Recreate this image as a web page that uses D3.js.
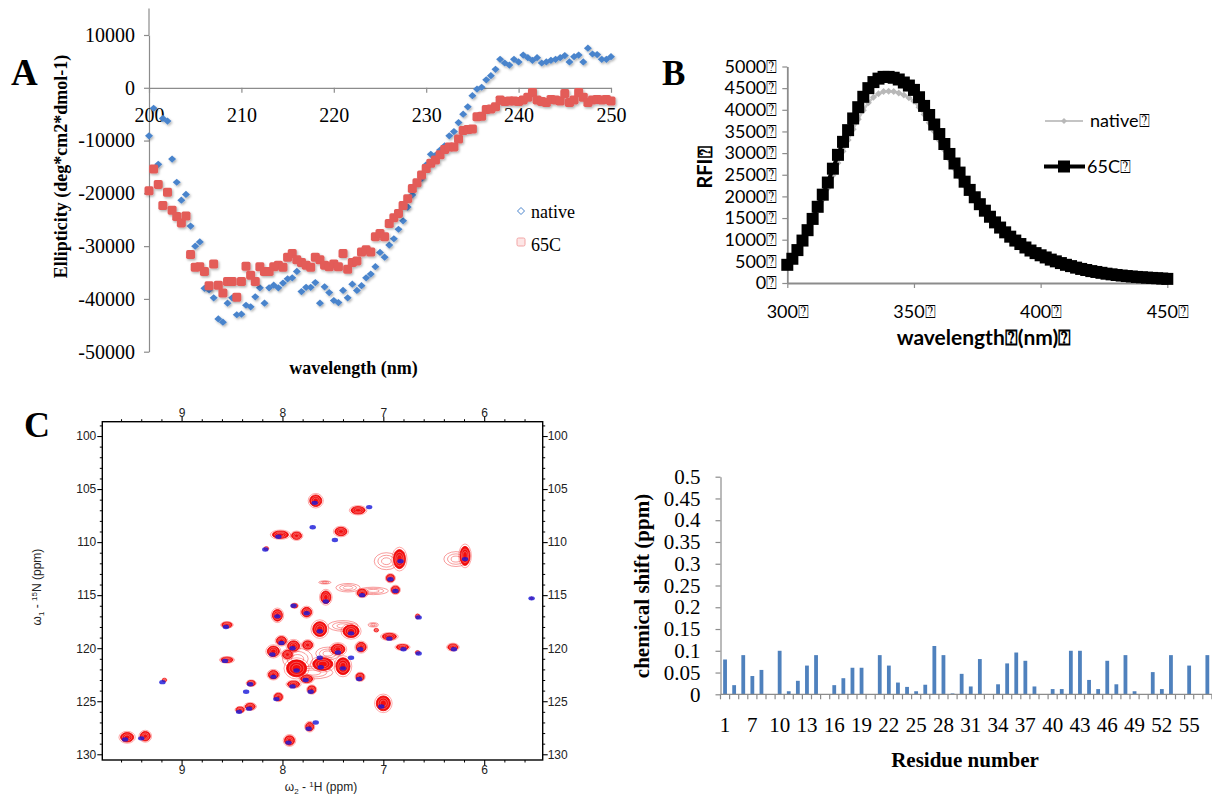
<!DOCTYPE html>
<html><head><meta charset="utf-8">
<script src="https://cdn.jsdelivr.net/npm/d3@7"></script>
<style>body{margin:0;background:#fff}svg{display:block}</style>
</head><body>
<svg id="fig" width="1212" height="799"></svg>
<script>
// ---------------- DATA ----------------
// Panel A: CD spectra (0.5 nm steps, 200-250 nm)
const cdWavelength = d3.range(200, 250.001, 0.5);
const cdNative = [-9100,-3900,-14500,-5800,-6300,-13500,-17900,-21300,-20200,-26200,
  -30000,-29200,-38000,-38300,-39800,-43800,-44400,-40800,-39800,-43000,
  -42900,-41200,-41500,-39600,-37900,-40800,-37900,-37400,-37900,-37000,
  -36200,-36000,-34800,-38600,-37800,-37800,-36900,-40800,-37700,-38800,
  -40300,-40700,-38400,-39800,-37200,-38400,-37500,-36000,-35300,-33900,
  -31200,-32100,-29800,-28600,-26800,-25200,-22600,-20300,-18100,-17200,
  -14600,-12600,-12800,-11800,-11000,-9100,-8300,-6600,-5000,-3600,
  -1500,-250,100,1500,2300,3500,5400,4700,4300,5400,
  4900,6200,5700,5200,5700,4700,4900,5200,5400,5700,
  6100,4900,5900,6200,4900,7500,6400,6300,5400,5400,5900];
const cd65C = [-19500,-15400,-18300,-22300,-19800,-23200,-24400,-25600,-24300,-31600,
  -34000,-33900,-34800,-37500,-33400,-37400,-38900,-36700,-36700,-39700,
  -36700,-33800,-35500,-36700,-33900,-34800,-34800,-33900,-33600,-34000,
  -32100,-31400,-32600,-33100,-33600,-34000,-32100,-32600,-33600,-33900,
  -33400,-33900,-31400,-34400,-33100,-32800,-31100,-30700,-31100,-28200,
  -27600,-28200,-25700,-24600,-23800,-22300,-21000,-19100,-18000,-16500,
  -15300,-14300,-13700,-12700,-11700,-11200,-11200,-9700,-8100,-7900,
  -7800,-5500,-5400,-4100,-4000,-3600,-2300,-2600,-2500,-2500,
  -2600,-2300,-1800,-900,-2300,-2600,-2800,-2200,-2300,-2500,
  -1100,-2800,-2300,-900,-1800,-2800,-2300,-2200,-2300,-2200,-2500];
const cdYTicks = [-50000,-40000,-30000,-20000,-10000,0,10000];
const cdXTicks = [200,210,220,230,240,250];

// Panel B: fluorescence emission (2 nm steps, 300-450 nm)
const flWavelength = d3.range(300, 450.001, 2);
const flNative = [400,540,730,940,1170,1410,1670,1930,2190,2480,
  2770,3040,3300,3550,3780,3990,4160,4290,4370,4420,
  4430,4420,4390,4340,4280,4200,4060,3890,3700,3500,
  3290,3070,2850,2640,2440,2240,2060,1900,1750,1610,
  1480,1360,1240,1140,1040,950,875,800,730,675,
  625,575,528,488,450,412,382,348,318,294,
  270,250,230,211,196,181,168,157,147,137,
  129,121,114,107,100,92];
const fl65C = [420,560,760,980,1220,1480,1760,2040,2320,2640,
  2960,3260,3530,3800,4060,4300,4500,4640,4720,4760,
  4760,4740,4700,4630,4560,4460,4290,4090,3880,3660,
  3440,3210,2980,2760,2550,2340,2150,1980,1820,1670,
  1530,1400,1280,1170,1070,980,900,820,750,690,
  640,590,540,500,460,420,390,355,325,300,
  275,255,235,215,200,185,172,160,150,140,
  132,124,117,110,103,95];
const flYTicks = [0,500,1000,1500,2000,2500,3000,3500,4000,4500,5000];
const flXTicks = [300,350,400,450];

// Panel C: 1H-15N HSQC peaks
const redH = [7.67,7.25,8.02,7.86,7.42,8.16,6.84,6.19,6.93,6.88,7.57,7.21,7.88,8.05,7.76,8.55,7.63,7.32,8.01,7.89,
  7.75,7.45,7.22,8.09,8.55,7.95,7.86,7.60,7.40,8.09,7.76,7.23,7.89,8.31,7.71,9.17,8.04,8.32,8.42,7.00,
  7.73,7.93,9.54,9.36,7.07,6.94,6.81,6.31,6.66,6.66,5.53];
const redN = [106.1,107.0,109.3,109.4,109.0,110.6,111.6,111.3,113.4,114.5,115.2,114.8,116.0,116.9,116.6,117.8,118.2,118.4,119.3,119.8,
  119.7,120.1,119.9,120.3,121.1,120.6,121.9,121.5,121.7,122.5,122.9,122.7,123.4,123.3,123.9,123.0,124.6,125.5,125.8,125.2,
  127.4,128.7,128.4,128.3,118.3,118.9,119.9,119.9,120.4,117.0,115.3];
const redLwH = [0.06,0.07,0.08,0.05,0.06,0.02,0.06,0.05,0.04,0.04,0.05,0.05,0.03,0.05,0.05,0.05,0.07,0.08,0.05,0.06,
  0.05,0.07,0.05,0.06,0.06,0.05,0.10,0.10,0.07,0.05,0.06,0.04,0.06,0.04,0.04,0.02,0.04,0.05,0.04,0.07,
  0.04,0.05,0.065,0.05,0.02,0.07,0.06,0.05,0.02,0.02,0.01];
const redLwN = [0.55,0.35,0.35,0.35,0.4,0.15,0.9,0.9,0.35,0.35,0.6,0.35,0.2,0.55,0.45,0.25,0.7,0.6,0.4,0.5,
  0.4,0.5,0.45,0.5,0.25,0.4,0.8,0.6,0.8,0.4,0.35,0.35,0.3,0.25,0.35,0.15,0.35,0.3,0.25,0.7,
  0.4,0.45,0.45,0.45,0.15,0.3,0.25,0.3,0.15,0.2,0.1];
const blueH = [7.68,7.14,8.04,7.48,7.70,8.17,6.83,6.19,6.93,6.88,7.57,7.21,7.89,8.05,7.76,8.56,7.63,7.32,6.94,8.01,
  7.90,7.45,7.23,8.10,8.57,7.86,7.40,7.62,8.09,7.77,7.24,7.90,8.32,8.36,7.72,9.19,8.06,8.33,8.43,7.02,
  7.74,7.94,9.56,9.40,6.80,6.65,6.30,6.65,5.53,7.67,7.63,7.32];
const blueN = [106.3,106.7,109.5,109.8,108.6,110.7,111.8,111.6,113.5,114.6,115.6,115.0,116.0,117.0,116.7,118.0,118.4,118.6,119.1,119.5,
  120.0,120.4,120.1,120.6,121.2,122.1,121.9,121.8,122.7,123.0,122.9,123.6,123.4,124.1,124.1,123.2,124.8,125.7,126.0,125.5,
  127.6,128.9,128.6,128.5,120.1,120.5,120.1,117.1,115.3,127.0,120.9,120.9];
const broadH = [6.97,6.28,7.58,7.35,7.10,7.40,7.10,7.85,7.70,7.55];
const broadN = [111.8,111.6,113.8,114.3,114.6,117.9,117.8,121.0,122.3,120.5];
const broadLwH = [0.12,0.12,0.06,0.12,0.15,0.15,0.05,0.15,0.2,0.12];
const broadLwN = [0.8,0.7,0.15,0.4,0.35,0.5,0.2,1.0,0.6,0.6];
const nmrHTicks = [9,8,7,6];
const nmrNTicks = [100,105,110,115,120,125,130];

// Panel D: chemical shift perturbation
const residues = ["1","5","6","7","8","9","10","11","12","13","14","15","16","17","18","19","20","21","22","23",
  "24","25","26","27","28","29","30","31","32","33","34","35","36","37","38","39","40","41","42","43",
  "44","45","46","47","48","49","50","51","52","53","54","55","56","57"];
const cspValues = [0.080,0.021,0.090,0.042,0.056,0,0.100,0.007,0.031,0.066,0.090,0,0.021,0.037,0.061,0.061,0,0.090,0.066,0.027,
  0.017,0.007,0.022,0.111,0.090,0.002,0.047,0.018,0.081,0,0.023,0.071,0.096,0.077,0.018,0,0.012,0.012,0.100,0.100,
  0.033,0.012,0.077,0.023,0.090,0.007,0,0.051,0.012,0.090,0,0.066,0,0.090];
const cspYTicks = [0,0.05,0.1,0.15,0.2,0.25,0.3,0.35,0.4,0.45,0.5];

// ---------------- DRAWING ----------------
const BOX = "\u2370";
const SERIF = "'Liberation Serif','Times New Roman',serif";
const SANSB = "Lato,'Open Sans',sans-serif";
const SANSC = "'Liberation Sans',Arial,sans-serif";
const AXC = "#8c8c8c";
const svg = d3.select("#fig");
const defs = svg.append("defs");
defs.append("filter").attr("id","shA").attr("x","-50%").attr("y","-50%").attr("width","200%").attr("height","200%")
  .append("feDropShadow").attr("dx",1.2).attr("dy",1.5).attr("stdDeviation",0.8)
  .attr("flood-color","#000").attr("flood-opacity",0.3);

function styleAxis(g, color, font, size){
  g.attr("font-family", font).attr("font-size", size);
  g.selectAll(".domain").attr("stroke", color).attr("stroke-width",1.2);
  g.selectAll(".tick line").attr("stroke", color).attr("stroke-width",1.2);
  g.selectAll(".tick text").attr("fill","#000");
}

// ===== Panel A =====
const xA = d3.scaleLinear().domain([200,250]).range([149,611]);
const yA = d3.scaleLinear().domain([-50000,10000]).range([351.7,35]);
const gA = svg.append("g");
gA.append("line").attr("x1",149).attr("x2",149).attr("y1",yA(15000)).attr("y2",yA(10000))
  .attr("stroke",AXC).attr("stroke-width",1.2);
const axYA = gA.append("g").attr("transform","translate(149,0)")
  .call(d3.axisLeft(yA).tickValues(cdYTicks).tickSize(5).tickSizeOuter(0).tickFormat(d=>String(d)));
styleAxis(axYA, AXC, SERIF, 20);
axYA.selectAll(".tick text").attr("x",-14);
const axXA = gA.append("g").attr("transform",`translate(0,${yA(0)})`)
  .call(d3.axisBottom(xA).tickValues(cdXTicks).tickSize(5).tickSizeOuter(0));
styleAxis(axXA, AXC, SERIF, 20);
axXA.selectAll(".tick text").attr("y",20);

gA.append("g").attr("filter","url(#shA)").selectAll("path")
  .data(cdWavelength.map((w,i)=>[w,cdNative[i]])).join("path")
  .attr("d","M0,-3.6L4,0L0,3.6L-4,0Z")
  .attr("transform",d=>`translate(${xA(d[0])},${yA(d[1])})`)
  .attr("fill","#4a84cc");
gA.append("g").attr("filter","url(#shA)").selectAll("rect")
  .data(cdWavelength.map((w,i)=>[w,cd65C[i]])).join("rect")
  .attr("x",d=>xA(d[0])-4.5).attr("y",d=>yA(d[1])-4.5)
  .attr("width",9).attr("height",9).attr("rx",1.8)
  .attr("fill","#e35b59");
// legend A
gA.append("path").attr("d","M0,-3.5L3.5,0L0,3.5L-3.5,0Z").attr("transform","translate(521,211)")
  .attr("fill","#fff").attr("stroke","#4a84cc").attr("stroke-width",1);
gA.append("rect").attr("x",517).attr("y",238).attr("width",8).attr("height",8).attr("rx",1.5)
  .attr("fill","#fde6e6").attr("stroke","#f2a5a5").attr("stroke-width",1);
gA.append("text").attr("x",531).attr("y",212).attr("dy","0.35em").attr("font-family",SERIF).attr("font-size",18).text("native");
gA.append("text").attr("x",531).attr("y",245).attr("dy","0.35em").attr("font-family",SERIF).attr("font-size",18).text("65C");
gA.append("text").attr("transform","translate(67,166.5) rotate(-90)").attr("text-anchor","middle")
  .attr("font-family",SERIF).attr("font-weight","bold").attr("font-size",18).text("Ellipticity (deg*cm2*dmol-1)");
gA.append("text").attr("x",353.5).attr("y",374).attr("text-anchor","middle")
  .attr("font-family",SERIF).attr("font-weight","bold").attr("font-size",18).text("wavelength (nm)");
svg.append("text").attr("x",11).attr("y",85).attr("font-family",SERIF).attr("font-weight","bold").attr("font-size",37).text("A");

// ===== Panel B =====
const xB = d3.scaleLinear().domain([300,450]).range([787.3,1167.3]);
const yB = d3.scaleLinear().domain([0,5000]).range([283,66.5]);
const gB = svg.append("g");
const axYB = gB.append("g").attr("transform","translate(787.3,0)")
  .call(d3.axisLeft(yB).tickValues(flYTicks).tickSize(5).tickSizeOuter(0).tickFormat(d=>d+BOX));
styleAxis(axYB, AXC, SANSB, 18);
axYB.selectAll(".domain").attr("stroke-width",1.8);
axYB.selectAll(".tick text").attr("x",-10);
const axXB = gB.append("g").attr("transform","translate(0,283)")
  .call(d3.axisBottom(xB).tickValues(flXTicks).tickSize(5).tickSizeOuter(0).tickFormat(d=>d+BOX));
styleAxis(axXB, AXC, SANSB, 18);
axXB.selectAll(".domain").attr("stroke-width",1.8);
axXB.selectAll(".tick text").attr("y",22);

const lineB = d3.line().x(d=>xB(d[0])).y(d=>yB(d[1]));
const natB = flWavelength.map((w,i)=>[w,flNative[i]]);
const hotB = flWavelength.map((w,i)=>[w,fl65C[i]]);
gB.append("path").attr("d",lineB(natB)).attr("fill","none").attr("stroke","#c4c4c4").attr("stroke-width",2.5);
gB.append("g").selectAll("path").data(natB).join("path")
  .attr("d","M0,-3.5L3.5,0L0,3.5L-3.5,0Z").attr("transform",d=>`translate(${xB(d[0])},${yB(d[1])})`)
  .attr("fill","#b8b8b8");
gB.append("path").attr("d",lineB(hotB)).attr("fill","none").attr("stroke","#000").attr("stroke-width",4);
gB.append("g").selectAll("rect").data(hotB).join("rect")
  .attr("x",d=>xB(d[0])-6).attr("y",d=>yB(d[1])-6).attr("width",12).attr("height",12).attr("fill","#000");
// legend B
gB.append("line").attr("x1",1045).attr("x2",1083).attr("y1",121).attr("y2",121).attr("stroke","#c4c4c4").attr("stroke-width",2);
gB.append("path").attr("d","M0,-3L3,0L0,3L-3,0Z").attr("transform","translate(1064,121)").attr("fill","#b8b8b8");
gB.append("text").attr("x",1090).attr("y",121).attr("dy","0.35em").attr("font-family",SANSB).attr("font-size",18).text("native"+BOX);
gB.append("line").attr("x1",1044).attr("x2",1085).attr("y1",166.5).attr("y2",166.5).attr("stroke","#000").attr("stroke-width",4);
gB.append("rect").attr("x",1058).attr("y",160.5).attr("width",12).attr("height",12).attr("fill","#000");
gB.append("text").attr("x",1087).attr("y",166.5).attr("dy","0.35em").attr("font-family",SANSB).attr("font-size",18).text("65C"+BOX);
gB.append("text").attr("transform","translate(712,167.5) rotate(-90)").attr("text-anchor","middle")
  .attr("font-family",SANSB).attr("font-weight","bold").attr("font-size",20).text("RFI"+BOX);
gB.append("text").attr("x",984).attr("y",345).attr("text-anchor","middle")
  .attr("font-family",SANSB).attr("font-weight","bold").attr("font-size",21).text("wavelength"+BOX+"(nm)"+BOX);
svg.append("text").attr("x",662).attr("y",85).attr("font-family",SERIF).attr("font-weight","bold").attr("font-size",35).text("B");

// ===== Panel C =====
const xC = d3.scaleLinear().domain([9.786,5.42]).range([102.3,542.7]);
const yC = d3.scaleLinear().domain([98.65,130.54]).range([421.7,760]);
const gC = svg.append("g");
defs.append("clipPath").attr("id","clipC").append("rect")
  .attr("x",102.3).attr("y",421.7).attr("width",440.4).attr("height",338.3);
const minorH = d3.range(5.6, 9.75, 0.2).filter(v=>Math.abs(v-Math.round(v))>0.05);
const minorN = d3.range(99, 130.5, 1).filter(v=>v%5!==0);
function nmrAxis(gen, tr, major, minor, pad, fmt){
  const g1 = gC.append("g").attr("transform",tr).call(gen.tickValues(minor).tickSize(2.5).tickSizeOuter(0).tickFormat(""));
  g1.select(".domain").remove(); g1.selectAll("line").attr("stroke","#000");
  const g2 = gC.append("g").attr("transform",tr).call(gen.tickValues(major).tickSize(5).tickSizeOuter(0).tickPadding(pad).tickFormat(fmt));
  g2.select(".domain").remove(); g2.selectAll("line").attr("stroke","#000").attr("stroke-width",1.1);
  g2.attr("font-family",SANSC).attr("font-size",12).selectAll("text").attr("fill","#222");
  return g2;
}
nmrAxis(d3.axisTop(xC), "translate(0,421.7)", nmrHTicks, minorH, 0, d=>String(d));
nmrAxis(d3.axisBottom(xC), "translate(0,760)", nmrHTicks, minorH, 0, d=>String(d));
nmrAxis(d3.axisLeft(yC), "translate(102.3,0)", nmrNTicks, minorN, 1, d=>String(d));
nmrAxis(d3.axisRight(yC), "translate(542.7,0)", nmrNTicks, minorN, 0, d=>String(d));

const peaksG = gC.append("g").attr("clip-path","url(#clipC)");
// broad weak contours
broadH.forEach((h,i)=>{
  const cx=xC(h), cy=yC(broadN[i]);
  const rx=Math.abs(xC(h+broadLwH[i])-cx), ry=Math.abs(yC(broadN[i]+broadLwN[i])-cy);
  [1,0.7,0.4].forEach(s=>peaksG.append("ellipse").attr("cx",cx).attr("cy",cy).attr("rx",rx*s).attr("ry",ry*s)
    .attr("fill","none").attr("stroke","#f03030").attr("stroke-width",0.6).attr("opacity",0.8));
});
// 65C peaks (red)
redH.forEach((h,i)=>{
  const cx=xC(h), cy=yC(redN[i]);
  const rx=Math.abs(xC(h+redLwH[i])-cx), ry=Math.abs(yC(redN[i]+redLwN[i])-cy);
  peaksG.append("ellipse").attr("cx",cx).attr("cy",cy).attr("rx",rx*1.25).attr("ry",ry*1.25)
    .attr("fill","none").attr("stroke","#f33").attr("stroke-width",0.6).attr("opacity",0.7);
  peaksG.append("ellipse").attr("cx",cx).attr("cy",cy).attr("rx",rx).attr("ry",ry)
    .attr("fill","#f20d0d").attr("stroke","#e00").attr("stroke-width",0.8);
  [0.72,0.45].forEach(s=>peaksG.append("ellipse").attr("cx",cx).attr("cy",cy).attr("rx",rx*s).attr("ry",ry*s)
    .attr("fill","none").attr("stroke","#fff").attr("stroke-width",0.5).attr("opacity",0.55));
});
// native peaks (blue)
peaksG.append("g").selectAll("ellipse").data(blueH.map((h,i)=>[h,blueN[i]])).join("ellipse")
  .attr("cx",d=>xC(d[0])).attr("cy",d=>yC(d[1])).attr("rx",3.2).attr("ry",2.2)
  .attr("fill","#1515d8").attr("opacity",0.8);

gC.append("rect").attr("x",102.3).attr("y",421.7).attr("width",440.4).attr("height",338.3)
  .attr("fill","none").attr("stroke","#000").attr("stroke-width",1.4);
const tB = gC.append("text").attr("x",321).attr("y",791).attr("text-anchor","middle")
  .attr("font-family",SANSC).attr("font-size",12).attr("fill","#222");
tB.append("tspan").text("\u03c9");
tB.append("tspan").attr("font-size",8).attr("dy",3).text("2");
tB.append("tspan").attr("dy",-3).text(" - ");
tB.append("tspan").attr("font-size",8).attr("dy",-4).text("1");
tB.append("tspan").attr("dy",4).text("H  (ppm)");
const tL = gC.append("text").attr("transform","translate(41,587) rotate(-90)").attr("text-anchor","middle")
  .attr("font-family",SANSC).attr("font-size",12).attr("fill","#222");
tL.append("tspan").text("\u03c9");
tL.append("tspan").attr("font-size",8).attr("dy",3).text("1");
tL.append("tspan").attr("dy",-3).text(" - ");
tL.append("tspan").attr("font-size",8).attr("dy",-4).text("15");
tL.append("tspan").attr("dy",4).text("N  (ppm)");
svg.append("text").attr("x",24).attr("y",437).attr("font-family",SERIF).attr("font-weight","bold").attr("font-size",36).text("C");

// ===== Panel D =====
const stepD = 9.1;
const xD = d3.scaleBand().domain(residues).range([720.5, 720.5 + stepD*residues.length]).padding(0);
const yD = d3.scaleLinear().domain([0,0.5]).range([694.3,476.7]);
const gD = svg.append("g");
const axYD = gD.append("g").attr("transform","translate(720.5,0)")
  .call(d3.axisLeft(yD).tickValues(cspYTicks).tickSize(5).tickSizeOuter(0)
    .tickFormat(d=>String(+d.toFixed(2))));
styleAxis(axYD, AXC, SERIF, 21);
axYD.selectAll(".tick text").attr("x",-20);
gD.append("g").selectAll("rect").data(residues.map((r,i)=>[r,cspValues[i]])).join("rect")
  .attr("x",d=>xD(d[0])+xD.bandwidth()/2-1.9).attr("width",3.8)
  .attr("y",d=>yD(d[1])).attr("height",d=>yD(0)-yD(d[1]))
  .attr("fill","#4f81bd");
gD.append("line").attr("x1",720.5).attr("x2",720.5+stepD*residues.length).attr("y1",yD(0)).attr("y2",yD(0))
  .attr("stroke",AXC).attr("stroke-width",1.2);
gD.append("g").selectAll("line").data(residues.concat(["_end"])).join("line")
  .attr("x1",(d,i)=>720.5+i*xD.step()).attr("x2",(d,i)=>720.5+i*xD.step())
  .attr("y1",yD(0)).attr("y2",yD(0)+5).attr("stroke",AXC).attr("stroke-width",1.2);
gD.append("g").selectAll("text").data(residues.filter((r,i)=>i%3===0)).join("text")
  .attr("x",d=>xD(d)+xD.bandwidth()/2).attr("y",732).attr("text-anchor","middle")
  .attr("font-family",SERIF).attr("font-size",21).text(d=>d);
gD.append("text").attr("transform","translate(649,586) rotate(-90)").attr("text-anchor","middle")
  .attr("font-family",SERIF).attr("font-weight","bold").attr("font-size",21).text("chemical shift (ppm)");
gD.append("text").attr("x",965).attr("y",767).attr("text-anchor","middle")
  .attr("font-family",SERIF).attr("font-weight","bold").attr("font-size",21).text("Residue number");
</script>
</body></html>
